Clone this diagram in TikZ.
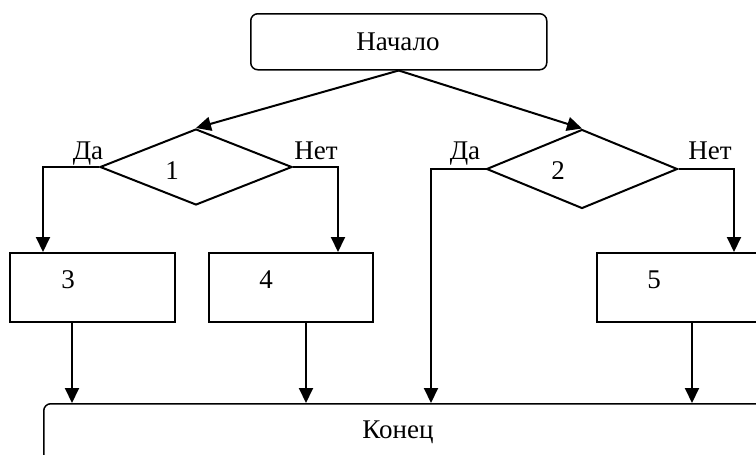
\documentclass[tikz,border=0pt]{standalone}
\usepackage{fontspec}
\setmainfont{Liberation Serif}
\usetikzlibrary{shapes.geometric,arrows.meta}
\begin{document}
\begin{tikzpicture}[x=1pt,y=-1pt,
  every node/.style={font=\fontsize{27}{32}\selectfont},
  term/.style={draw,line width=1.5pt,rounded corners=7pt,inner sep=0pt,anchor=north west},
  procbox/.style={draw,line width=1.6pt,inner sep=0pt,anchor=north west},
  decision/.style={draw,diamond,line width=2pt,inner sep=0pt},
  txt/.style={anchor=base,inner sep=0pt},
  arr/.style={line width=2pt,-{Triangle[length=15pt,width=14pt]}}]
\useasboundingbox (0,0) rectangle (756,455);
\clip (0,0) rectangle (756,455);
% start
\node[term,minimum width=296pt,minimum height=56pt] (start) at (250,13) {};
\node[txt] (tstart) at (398,50) {Начало};
% decisions
\node[decision,minimum width=192pt,minimum height=76pt] (d1) at (196,167) {};
\node[decision,minimum width=191pt,minimum height=79pt] (d2) at (582,169) {};
\node[txt] (t1) at (172,179) {1};
\node[txt] (t2) at (558,179) {2};
\node[txt] (y1) at (88,159) {Да};
\node[txt] (n1) at (316,159) {Нет};
\node[txt] (y2) at (465,159) {Да};
\node[txt] (n2) at (710,159) {Нет};
% boxes
\node[procbox,minimum width=165pt,minimum height=69pt] (b3) at (9,252) {};
\node[procbox,minimum width=164pt,minimum height=69pt] (b4) at (208,252) {};
\node[procbox,minimum width=200pt,minimum height=69pt] (b5) at (596,252) {};
\node[txt] (t3) at (68,288) {3};
\node[txt] (t4) at (266,288) {4};
\node[txt] (t5) at (654,288) {5};
% end
\node[term,minimum width=760pt,minimum height=100pt] (fin) at (43,403) {};
\node[txt] (tfin) at (398,438) {Конец};
% connector coordinates
\coordinate (c1) at (43,167);
\coordinate (c2) at (338,167);
\coordinate (c3) at (431,169);
\coordinate (c4) at (734,169);
\coordinate (e1) at (72,403);
\coordinate (e2) at (306,403);
\coordinate (e4) at (692,403);
% connectors
\draw[arr] (start.south) -- (d1.north);
\draw[arr] (start.south) -- (d2.north);
\draw[arr] (d1.west) -- (c1) -- (c1 |- b3.north);
\draw[arr] (d1.east) -- (c2) -- (c2 |- b4.north);
\draw[arr] (d2.west) -- (c3) -- (c3 |- fin.north);
\draw[arr] (d2.east) -- (c4) -- (c4 |- b5.north);
\draw[arr] (b3.south -| e1) -- (e1);
\draw[arr] (b4.south -| e2) -- (e2);
\draw[arr] (b5.south -| e4) -- (e4);
\end{tikzpicture}
\end{document}
